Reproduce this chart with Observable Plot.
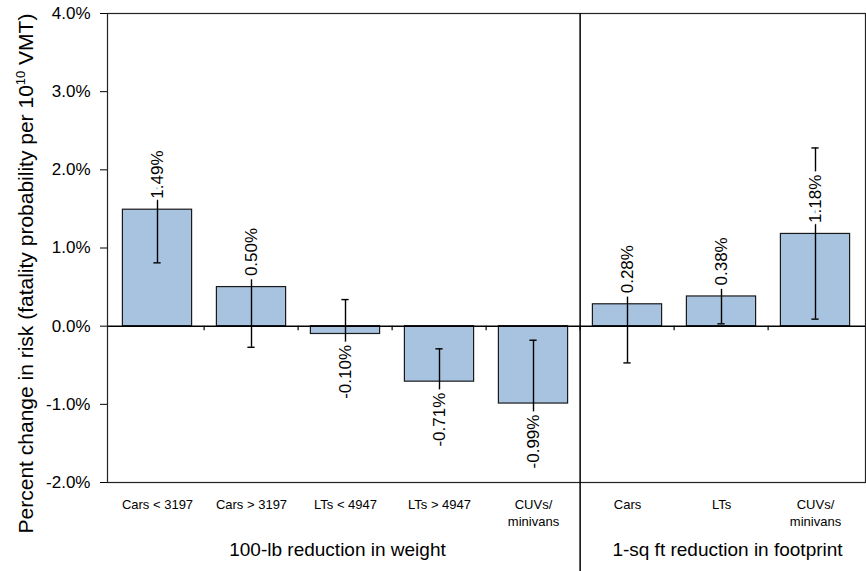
<!DOCTYPE html>
<html>
<head>
<meta charset="utf-8">
<script src="https://cdn.jsdelivr.net/npm/d3@7"></script>
<script src="https://cdn.jsdelivr.net/npm/@observablehq/plot@0.6"></script>
<style>
  body { margin: 0; background: #fff; }
  #chart svg { display: block; }
</style>
</head>
<body>
<div id="chart"></div>
<script>
// ---- data ----
const groups = [
  "100-lb reduction in weight", "100-lb reduction in weight", "100-lb reduction in weight",
  "100-lb reduction in weight", "100-lb reduction in weight",
  "1-sq ft reduction in footprint", "1-sq ft reduction in footprint", "1-sq ft reduction in footprint"
];
const categories = ["Cars < 3197", "Cars > 3197", "LTs < 4947", "LTs > 4947", "CUVs/\nminivans", "Cars", "LTs", "CUVs/\nminivans"];
const values = [1.49, 0.50, -0.10, -0.71, -0.99, 0.28, 0.38, 1.18];
const lower  = [0.81, -0.27, -0.54, -1.13, -1.72, -0.47, 0.03, 0.09];
const upper  = [2.17, 1.25, 0.34, -0.29, -0.18, 1.03, 0.73, 2.28];
const groupNames = ["100-lb reduction in weight", "1-sq ft reduction in footprint"];
const yTicks = [-2, -1, 0, 1, 2, 3, 4];
const yTitleParts = ["Percent change in risk (fatality probability per 10", "10", " VMT)"];
const yTitle = yTitleParts.join("");

const rows = values.map((v, i) => ({
  key: i,
  group: groups[i],
  category: categories[i],
  value: v,
  lower: lower[i],
  upper: upper[i],
  label: v.toFixed(2) + "%"
}));
const keys = rows.map(d => d.key);
const firstOfGroup2 = groups.indexOf(groupNames[1]);
const groupMid = g => {
  const idx = keys.filter(k => groups[k] === g);
  return idx[Math.floor(idx.length / 2)];
};

const W = 866, H = 571;
const mL = 107, mR = 1, mT = 13, mB = 89;
const step = (W - mL - mR) / keys.length;
const font = "'Liberation Sans', Arial, Helvetica, sans-serif";

const chart = Plot.plot({
  width: W,
  height: H,
  marginLeft: mL,
  marginRight: mR,
  marginTop: mT,
  marginBottom: mB,
  style: { fontFamily: font, fontSize: "17px", color: "#000", background: "#fff" },
  x: { type: "band", domain: keys, padding: 0, axis: null },
  y: { domain: [yTicks[0], yTicks[yTicks.length - 1]], axis: null },
  marks: [
    Plot.barY(rows, {
      x: "key", y: "value",
      fill: "#a7c3e0", stroke: "#1a1a1a", strokeWidth: 1.2,
      insetLeft: 12.4, insetRight: 12.4
    }),
    Plot.ruleX(rows, { x: "key", y1: "lower", y2: "upper", stroke: "#000", strokeWidth: 1.4 }),
    Plot.tickY(rows, { x: "key", y: "lower", stroke: "#000", strokeWidth: 1.4, insetLeft: step / 2 - 4, insetRight: step / 2 - 4 }),
    Plot.tickY(rows, { x: "key", y: "upper", stroke: "#000", strokeWidth: 1.4, insetLeft: step / 2 - 4, insetRight: step / 2 - 4 }),
    Plot.ruleY([0], { stroke: "#000", strokeWidth: 1.5 }),
    // small ticks at category boundaries on zero line
    Plot.ruleX(keys.slice(1), { x: d => d, dx: -step / 2, y1: 0, y2: -0.06, stroke: "#000", strokeWidth: 1.2 }),
    // value labels
    Plot.text(rows.filter(d => d.value >= 0), {
      x: "key", y: "value", text: "label", rotate: -90, textAnchor: "start",
      dy: -11, fontSize: 17, fill: "#000", stroke: "#fff", strokeWidth: 8
    }),
    Plot.text(rows.filter(d => d.value < 0), {
      x: "key", y: "value", text: "label", rotate: -90, textAnchor: "end",
      dy: 11, fontSize: 17, fill: "#000", stroke: "#fff", strokeWidth: 8
    }),
    // category labels
    Plot.text(rows, {
      x: "key", y: () => yTicks[0], text: "category",
      lineAnchor: "top", lineHeight: 1.31, dy: 14, fontSize: 13, fill: "#000"
    }),
    // group labels
    Plot.text([groupNames[0]], {
      x: () => groupMid(groupNames[0]), y: () => yTicks[0], text: d => d,
      dx: -8, dy: 67, fontSize: 19, fill: "#000"
    }),
    Plot.text([groupNames[1]], {
      x: () => groupMid(groupNames[1]), y: () => yTicks[0], text: d => d,
      dx: 6, dy: 67, fontSize: 19, fill: "#000"
    }),
    // y axis title
    Plot.text([yTitle], {
      frameAnchor: "left", textAnchor: "middle", text: d => d, rotate: -90,
      dx: -81, dy: 25.5, fontSize: 21, fill: "#000", className: "ytitle"
    }),
    Plot.axisY({
      ticks: yTicks,
      tickFormat: d => d.toFixed(1) + "%",
      tickSize: 7,
      tickPadding: 10,
      fontSize: 17,
      label: null,
      stroke: "#000"
    }),
    Plot.frame({ stroke: "#222", strokeWidth: 1.2 }),
    // divider between the two groups
    Plot.ruleX([firstOfGroup2], {
      x: d => d, dx: -step / 2,
      y1: yTicks[yTicks.length - 1], y2: yTicks[0] - (mB / ((H - mT - mB) / (yTicks[yTicks.length - 1] - yTicks[0]))),
      stroke: "#000", strokeWidth: 1.5
    })
  ]
});

// render the exponent of the axis title as a superscript
d3.select(chart).selectAll("text").each(function () {
  if (this.textContent === yTitle) {
    const t = d3.select(this);
    t.text(null);
    t.append("tspan").text(yTitleParts[0]);
    t.append("tspan").attr("dy", -8).attr("font-size", 13).text(yTitleParts[1]);
    t.append("tspan").attr("dy", 8).text(yTitleParts[2]);
  }
});

document.getElementById("chart").appendChild(chart);
</script>
</body>
</html>
